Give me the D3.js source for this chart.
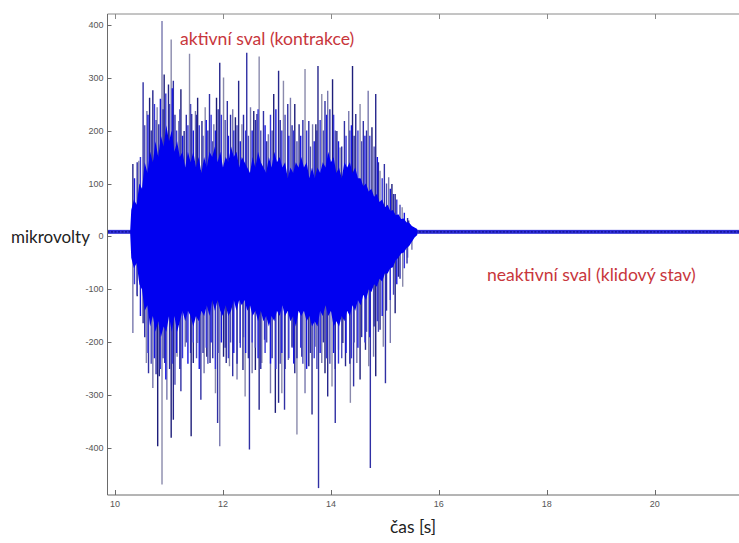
<!DOCTYPE html>
<html><head><meta charset="utf-8">
<script src="https://cdn.jsdelivr.net/npm/d3@7"></script>
<style>body{margin:0;background:#fff;} svg{display:block;}</style>
</head><body>
<svg id="c" width="739" height="543"></svg>
<script>
// ---- data ----
const xTicks = [10, 12, 14, 16, 18, 20];
const yTicks = [-400, -300, -200, -100, 0, 100, 200, 300, 400];
const xLimits = [9.86, 21.7];
const yLimits = [-488, 420];

// tall positive spikes: time [s], peak [µV]
const upT = [10.33,10.44,10.52,10.59,10.64,10.70,10.78,10.81,10.87,10.91,10.99,11.04,11.08,11.18,11.22,11.28,11.38,11.42,11.49,11.53,11.61,11.67,11.75,11.83,11.88,11.94,12.01,12.08,12.18,12.23,12.29,12.35,12.44,12.51,12.57,12.63,12.67,12.75,12.84,12.94,13.03,13.12,13.20,13.25,13.33,13.41,13.52,13.59,13.66,13.72,13.76,13.83,13.89,13.94,14.03,14.11,14.17,14.25,14.33,14.40,14.46,14.54,14.60,14.69,14.76,14.83,14.91,14.99,15.07,15.13,15.19,15.32,15.44];
const upV = [137,143,291,237,262,276,244,212,407,306,287,372,294,218,278,199,345,231,237,262,218,244,269,212,262,328,300,256,240,225,294,212,347,244,237,231,340,237,193,269,313,294,250,262,250,212,316,218,212,212,322,269,256,275,297,199,168,218,237,322,231,250,218,275,206,269,124,137,112,99,80,55,30];

// tall negative spikes
const downT = [10.33,10.41,10.52,10.58,10.62,10.70,10.79,10.82,10.87,10.92,10.96,11.04,11.08,11.15,11.22,11.30,11.41,11.45,11.53,11.59,11.65,11.70,11.76,11.86,11.90,11.94,12.01,12.06,12.12,12.18,12.26,12.32,12.37,12.41,12.49,12.54,12.60,12.67,12.72,12.77,12.88,12.97,13.03,13.09,13.14,13.21,13.28,13.33,13.37,13.46,13.52,13.59,13.65,13.71,13.77,13.83,13.89,13.94,14.02,14.08,14.14,14.22,14.27,14.36,14.42,14.48,14.54,14.64,14.70,14.73,14.79,14.83,14.91,14.97,15.01,15.10,15.19,15.25,15.33,15.41,15.50];
const downV = [-182,-113,-164,-239,-258,-286,-396,-264,-468,-239,-308,-380,-346,-227,-292,-208,-377,-239,-201,-308,-258,-227,-239,-296,-352,-396,-227,-239,-245,-264,-270,-201,-252,-302,-402,-258,-252,-327,-239,-195,-296,-333,-314,-296,-327,-233,-208,-258,-374,-227,-296,-245,-336,-208,-475,-239,-258,-302,-283,-352,-214,-201,-245,-314,-283,-239,-270,-214,-245,-437,-227,-264,-176,-208,-277,-201,-145,-76,-95,-51,-25];

// medium (blue) oscillations above / below the dense core
const midT = [10.36,10.41,10.47,10.55,10.61,10.67,10.73,10.76,10.84,10.89,
  10.94,11.01,11.06,11.11,11.14,11.20,11.25,11.32,11.35,11.40,
  11.45,11.51,11.56,11.63,11.69,11.72,11.78,11.81,11.86,11.91,
  11.97,12.04,12.10,12.14,12.20,12.26,12.32,12.38,12.42,12.47,
  12.54,12.60,12.65,12.70,12.78,12.81,12.88,12.91,12.98,13.06,
  13.09,13.15,13.22,13.28,13.31,13.37,13.44,13.48,13.55,13.62,
  13.69,13.74,13.80,13.86,13.92,13.98,14.05,14.08,14.14,14.20,
  14.28,14.35,14.38,14.43,14.50,14.57,14.63,14.66,14.72,14.80,
  14.86,14.88,14.95,15.03,15.10,15.16,15.22,15.28,15.36,15.42];
const midUp = [110,140,150,210,230,200,250,220,260,240,
  270,250,280,230,200,240,190,230,210,250,
  200,230,210,190,220,200,230,180,200,240,
  230,220,190,230,200,210,180,230,200,190,
  200,220,240,200,210,180,230,200,240,220,
  200,230,190,210,200,180,190,220,200,170,
  180,200,220,200,230,240,230,200,180,170,
  190,200,210,190,200,180,190,200,190,170,
  150,140,110,100,90,80,70,60,45,35];
const midDown = [-90,-110,-150,-190,-220,-240,-230,-260,-250,-230,
  -270,-250,-240,-280,-220,-250,-230,-200,-240,-220,
  -200,-230,-250,-220,-210,-240,-200,-230,-250,-220,
  -200,-210,-230,-200,-220,-240,-210,-190,-220,-230,
  -200,-210,-230,-250,-220,-200,-240,-230,-250,-240,
  -220,-250,-230,-210,-240,-230,-210,-240,-250,-220,
  -230,-250,-220,-200,-230,-240,-220,-250,-240,-230,
  -220,-240,-230,-200,-210,-190,-200,-180,-190,-170,
  -160,-180,-150,-140,-120,-110,-90,-80,-60,-40];

// dense core of the burst: time, upper edge, lower edge
const coreT = [10.28,10.30,10.35,10.40,10.45,10.50,10.55,10.60,10.65,10.70,
  10.75,10.80,10.85,10.90,10.95,11.00,11.05,11.10,11.15,11.20,
  11.25,11.30,11.35,11.40,11.45,11.50,11.55,11.60,11.65,11.70,
  11.75,11.80,11.85,11.90,11.95,12.00,12.05,12.10,12.15,12.20,
  12.25,12.30,12.35,12.40,12.45,12.50,12.55,12.60,12.65,12.70,
  12.75,12.80,12.85,12.90,12.95,13.00,13.05,13.10,13.15,13.20,
  13.25,13.30,13.35,13.40,13.45,13.50,13.55,13.60,13.65,13.70,
  13.75,13.80,13.85,13.90,13.95,14.00,14.05,14.10,14.15,14.20,
  14.25,14.30,14.35,14.40,14.45,14.50,14.55,14.60,14.65,14.70,
  14.75,14.80,14.85,14.90,14.95,15.00,15.05,15.10,15.15,15.20,
  15.25,15.30,15.35,15.40,15.45,15.50,15.55,15.60];
const coreHi = [10,50,70,60,100,90,140,120,160,140,
  180,150,190,170,210,180,200,160,180,150,
  160,130,160,140,160,130,150,120,150,130,
  160,150,170,140,160,130,150,140,170,150,
  160,130,150,140,130,120,150,130,160,140,
  130,120,150,130,160,140,150,130,140,110,
  130,120,140,130,150,130,140,110,130,110,
  130,120,140,130,160,140,150,120,130,110,
  140,130,140,120,130,110,110,95,100,85,
  90,75,80,65,70,55,60,48,50,40,
  42,33,34,27,26,20,17,14];
const coreLo = [6,-40,-60,-50,-90,-100,-140,-130,-170,-150,
  -180,-160,-190,-170,-180,-150,-180,-150,-180,-160,
  -140,-160,-140,-150,-170,-150,-160,-140,-150,-130,
  -150,-120,-140,-120,-140,-150,-130,-150,-140,-120,
  -140,-120,-130,-120,-140,-130,-150,-140,-160,-140,
  -160,-150,-170,-150,-160,-140,-150,-130,-150,-140,
  -160,-150,-170,-140,-150,-140,-160,-150,-170,-160,
  -170,-140,-150,-130,-150,-140,-170,-160,-170,-150,
  -160,-140,-150,-130,-140,-120,-130,-110,-120,-100,
  -105,-90,-95,-80,-85,-70,-70,-60,-58,-45,
  -40,-32,-30,-22,-18,-10,-2,3];

// resting (inactive muscle) band
const restStart = [9.86, 15.5];
const restEnd   = [10.31, 21.8];
const restBand  = [5, 12.5];

// ---- drawing ----
const svg = d3.select("#c");
const L = 107.5, R = 746.5, T = 14, B = 495;
const x = d3.scaleLinear().domain(xLimits).range([L, R]);
const y = d3.scaleLinear().domain(yLimits).range([B, T]);

const plot = svg.append("g");
plot.append("clipPath").attr("id","clip").append("rect")
  .attr("x", L).attr("y", T).attr("width", R - L).attr("height", B - T);
const g = plot.append("g").attr("clip-path","url(#clip)");

// resting band
restStart.forEach((s, i) => {
  g.append("rect")
    .attr("x", x(s)).attr("width", x(restEnd[i]) - x(s))
    .attr("y", y(restBand[1])).attr("height", y(restBand[0]) - y(restBand[1]))
    .attr("fill", "#3030d8");
  const mid = (restBand[0] + restBand[1]) / 2;
  g.append("line")
    .attr("x1", x(s)).attr("x2", x(restEnd[i]))
    .attr("y1", y(mid)).attr("y2", y(mid))
    .attr("stroke", "#0c0c8c").attr("stroke-width", 1.2).attr("stroke-dasharray", "2,1.5");
});

const spikeColors = ["#26268c", "#8a8aac", "#3030a4", "#7878ae", "#1e1e7a"];
const spikes = upT.map((t, i) => ({t, v: upV[i]})).concat(downT.map((t, i) => ({t, v: downV[i]})));
g.selectAll("line.sp").data(spikes).join("line").attr("class","sp")
  .attr("x1", d => x(d.t)).attr("x2", d => x(d.t))
  .attr("y1", y(0)).attr("y2", d => y(d.v))
  .attr("stroke", (d, i) => spikeColors[i % spikeColors.length])
  .attr("stroke-width", 1.4);

const midColors = ["#1616e0", "#2a2aa8", "#3636d8", "#4a4ab8"];
const mids = midT.map((t, i) => ({t, v: midUp[i]})).concat(midT.map((t, i) => ({t, v: midDown[i]})));
g.selectAll("line.md").data(mids).join("line").attr("class","md")
  .attr("x1", d => x(d.t)).attr("x2", d => x(d.t))
  .attr("y1", y(0)).attr("y2", d => y(d.v))
  .attr("stroke", (d, i) => midColors[i % midColors.length])
  .attr("stroke-width", 1.4);

// dense core
const core = coreT.map((t, i) => ({t, hi: coreHi[i], lo: coreLo[i]}));
g.append("path").datum(core)
  .attr("d", d3.area().x(d => x(d.t)).y0(d => y(d.lo)).y1(d => y(d.hi)))
  .attr("fill", "#0000f0");

// frame
const axisColor = "#6a6a6a";
svg.append("line").attr("x1", L).attr("x2", 739).attr("y1", T).attr("y2", T).attr("stroke", "#8a8a8a");
svg.append("line").attr("x1", L).attr("x2", 739).attr("y1", B).attr("y2", B).attr("stroke", axisColor);
svg.append("line").attr("x1", L).attr("x2", L).attr("y1", T).attr("y2", B).attr("stroke", axisColor);

// ticks
const fmt = v => (v < 0 ? "-" : "") + Math.abs(v);
const yt = svg.append("g");
yTicks.forEach(v => {
  yt.append("line").attr("x1", L).attr("x2", L + 4).attr("y1", Math.round(y(v)) + 0.5).attr("y2", Math.round(y(v)) + 0.5).attr("stroke", axisColor);
  yt.append("text").attr("x", L - 4).attr("y", y(v) + 3).attr("text-anchor","end")
    .attr("font-family","Liberation Sans, Arial, sans-serif").attr("font-size", 9).attr("fill","#555").text(fmt(v));
});
const xt = svg.append("g");
xTicks.forEach(v => {
  const px = Math.round(x(v)) + 0.5;
  xt.append("line").attr("x1", px).attr("x2", px).attr("y1", B).attr("y2", B - 5).attr("stroke", axisColor);
  xt.append("line").attr("x1", px).attr("x2", px).attr("y1", T).attr("y2", T + 5).attr("stroke", "#8a8a8a");
  xt.append("text").attr("x", x(v)).attr("y", B + 12).attr("text-anchor","middle")
    .attr("font-family","Liberation Sans, Arial, sans-serif").attr("font-size", 9).attr("fill","#555").text(v);
});

// labels
const red = "#c8363c";
const font = "Lato, 'Open Sans', sans-serif";
svg.append("text").attr("x", 180).attr("y", 45).attr("font-family", font)
  .attr("font-size", 17.6).attr("fill", red).text("aktivní sval (kontrakce)");
svg.append("text").attr("x", 487).attr("y", 281).attr("font-family", font)
  .attr("font-size", 17.6).attr("fill", red).text("neaktivní sval (klidový stav)");
svg.append("text").attr("x", 11).attr("y", 243).attr("font-family", font)
  .attr("font-size", 17).attr("fill", "#222").text("mikrovolty");
svg.append("text").attr("x", 413).attr("y", 533).attr("text-anchor","middle").attr("font-family", font)
  .attr("font-size", 17.4).attr("fill", "#222").text("čas [s]");
</script>
</body></html>
